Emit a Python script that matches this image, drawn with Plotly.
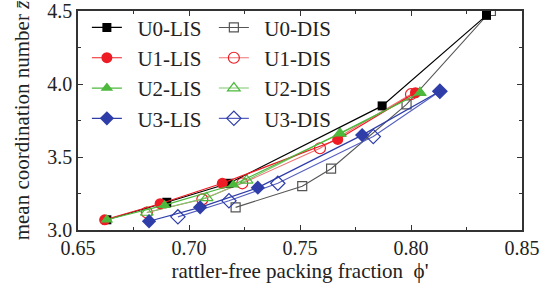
import plotly.graph_objects as go

# Data
u0_lis_x = [0.663, 0.690, 0.718, 0.787, 0.834]
u0_lis_y = [3.07, 3.19, 3.32, 3.85, 4.47]
u0_dis_x = [0.721, 0.751, 0.764, 0.798, 0.836]
u0_dis_y = [3.155, 3.30, 3.42, 3.86, 4.50]

u1_lis_x = [0.662, 0.687, 0.715, 0.767, 0.802]
u1_lis_y = [3.07, 3.18, 3.32, 3.62, 3.94]
u1_dis_x = [0.681, 0.706, 0.724, 0.759, 0.800]
u1_dis_y = [3.12, 3.21, 3.32, 3.56, 3.93]

u2_lis_x = [0.663, 0.689, 0.720, 0.768, 0.804]
u2_lis_y = [3.07, 3.17, 3.31, 3.66, 3.94]
u2_dis_x = [0.681, 0.708, 0.726, 0.768, 0.804]
u2_dis_y = [3.12, 3.22, 3.34, 3.66, 3.94]

u3_lis_x = [0.682, 0.705, 0.731, 0.778, 0.813]
u3_lis_y = [3.06, 3.155, 3.29, 3.65, 3.95]
u3_dis_x = [0.695, 0.718, 0.740, 0.783, 0.813]
u3_dis_y = [3.09, 3.20, 3.32, 3.64, 3.95]

names_lis = ["U0-LIS", "U1-LIS", "U2-LIS", "U3-LIS"]
names_dis = ["U0-DIS", "U1-DIS", "U2-DIS", "U3-DIS"]

x_tickvals = [0.65, 0.70, 0.75, 0.80, 0.85]
x_ticktext = ["0.65", "0.70", "0.75", "0.80", "0.85"]
y_tickvals = [3.0, 3.5, 4.0, 4.5]
y_ticktext = ["3.0", "3.5", "4.0", "4.5"]

colors = ["#000000", "#ee1c24", "#4cb83c", "#2e3da8"]
dis_line_colors = ["#555555", "#f07070", "#7cc86c", "#5560c0"]
symbols = ["square", "circle", "triangle-up", "diamond"]
sizes = [9, 11, 11, 11]

lis = [(u0_lis_x, u0_lis_y), (u1_lis_x, u1_lis_y), (u2_lis_x, u2_lis_y), (u3_lis_x, u3_lis_y)]
dis = [(u0_dis_x, u0_dis_y), (u1_dis_x, u1_dis_y), (u2_dis_x, u2_dis_y), (u3_dis_x, u3_dis_y)]

pad = "\u00a0\u00a0"
fig = go.Figure()
for i in range(4):
    fig.add_trace(go.Scatter(
        x=dis[i][0], y=dis[i][1], name=pad + names_dis[i], mode="lines+markers",
        line=dict(color=dis_line_colors[i], width=1.1),
        marker=dict(symbol=symbols[i] + "-open", size=sizes[i], color=colors[i] if i else "#555555",
                    line=dict(width=1.2)),
        legend="legend2"))
for i in range(4):
    fig.add_trace(go.Scatter(
        x=lis[i][0], y=lis[i][1], name=pad + names_lis[i], mode="lines+markers",
        line=dict(color=colors[i], width=1.2),
        marker=dict(symbol=symbols[i], size=sizes[i], color=colors[i]),
        legend="legend"))

font = "Liberation Serif, Times New Roman, serif"
axis_common = dict(
    showline=True, mirror="allticks", linecolor="#333333", linewidth=1.5,
    ticks="inside", ticklen=5, tickwidth=1.2, tickcolor="#333333",
    showgrid=False, zeroline=False, automargin=False, tickmode="array",
    ticklabeloverflow="allow",
    tickfont=dict(family=font, size=20, color="#222222"),
)
fig.update_xaxes(range=[0.65, 0.85], tickvals=x_tickvals, ticktext=x_ticktext,
                 ticklabelstandoff=-1,
                 minor=dict(ticks="inside", ticklen=3, tickvals=[0.675, 0.725, 0.775, 0.825], tickcolor="#333333"),
                 title=dict(text="rattler-free packing fraction  ϕ'", font=dict(family=font, size=21, color="#222222"),
                            standoff=0),
                 **axis_common)
fig.update_yaxes(range=[3.0, 4.5], tickvals=y_tickvals, ticktext=y_ticktext,
                 minor=dict(ticks="inside", ticklen=3, tickvals=[3.25, 3.75, 4.25], tickcolor="#333333"),
                 title=dict(text="mean coordination number <i>z̄</i>", font=dict(family=font, size=21, color="#222222"),
                            standoff=12),
                 **axis_common)

leg = dict(font=dict(family=font, size=21, color="#222222"), bgcolor="rgba(0,0,0,0)",
           xanchor="left", yanchor="top", tracegroupgap=0, itemwidth=30)
fig.update_layout(
    width=546, height=290,
    margin=dict(l=78, r=24, t=7, b=60),
    paper_bgcolor="white", plot_bgcolor="white",
    legend=dict(x=0.02, y=1.017, **leg),
    legend2=dict(x=0.306, y=1.017, **leg),
    showlegend=True,
)
fig.write_html("out.html", config={"displayModeBar": False},
               post_script="document.body.style.margin='0';")
